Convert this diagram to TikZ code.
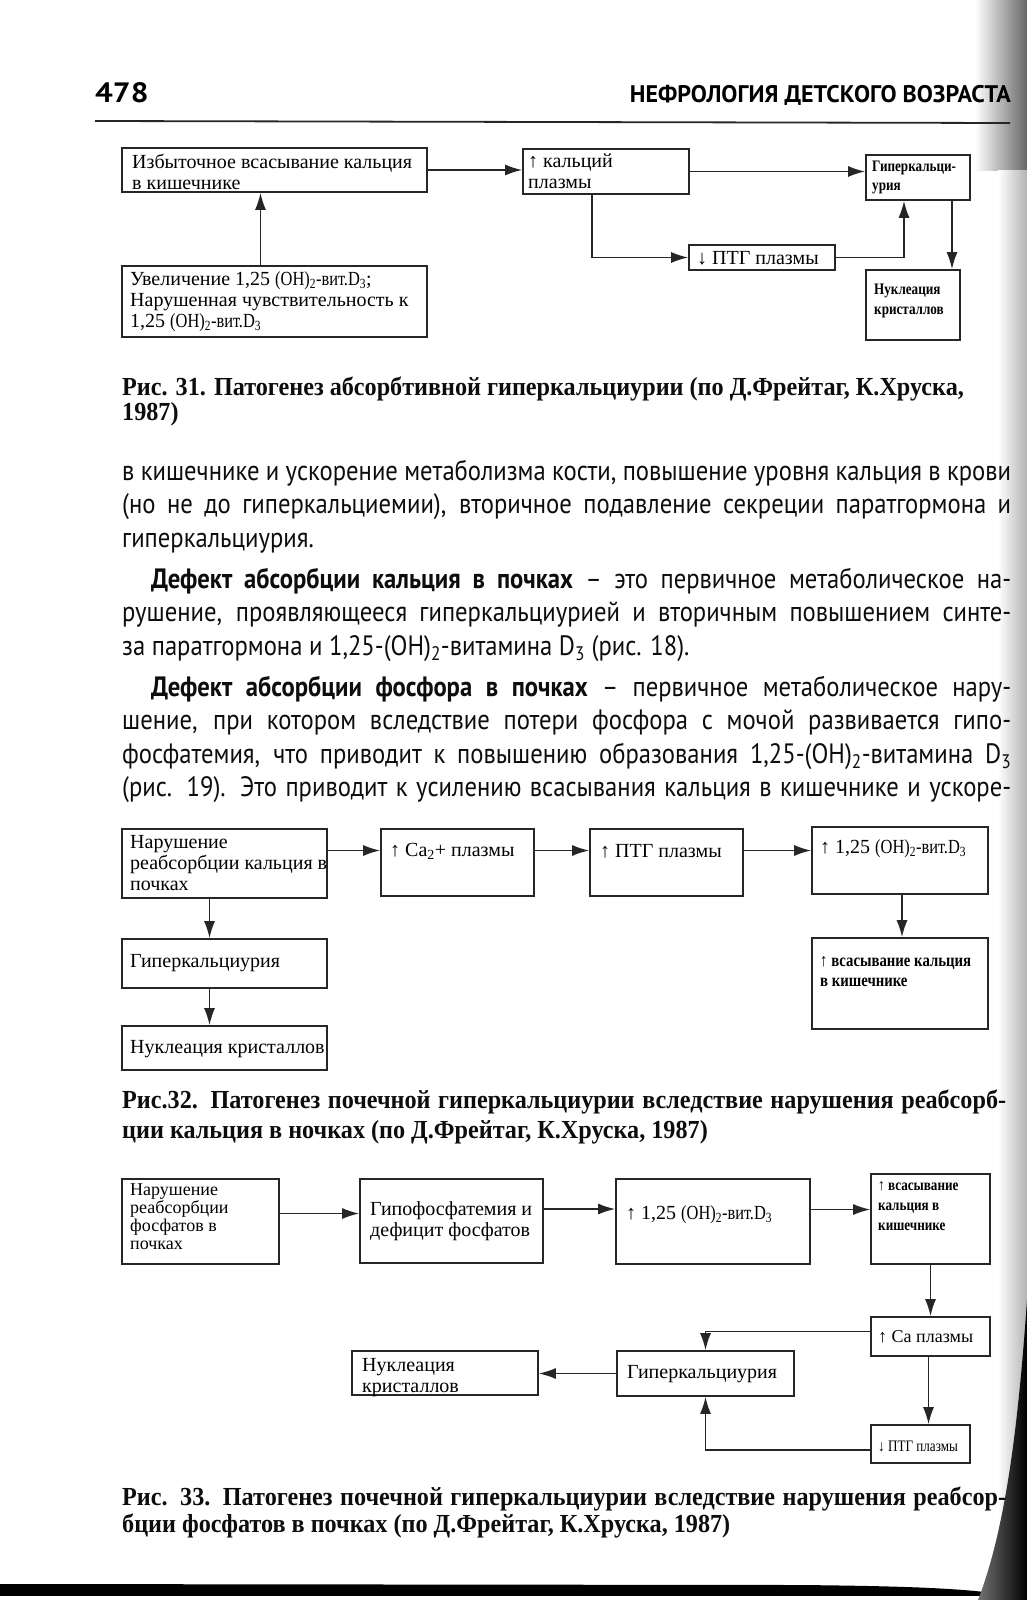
\documentclass[tikz,border=0pt]{standalone}
\usepackage{fontspec}
\setmainfont{Liberation Serif}
\newfontfamily\bodyfam[FakeStretch=0.88]{PT Sans}
\newfontfamily\headfam{PT Sans}
\newfontfamily\numfam[FakeStretch=1.12]{PT Sans}
\newfontfamily\cnd[FakeStretch=0.82]{Liberation Serif}
\newfontfamily\capfam[FakeStretch=0.93]{Liberation Serif}
\usetikzlibrary{arrows.meta}
\newcommand\dgf{\fontsize{20pt}{21pt}\selectfont}
\newcommand\dgs{\cnd\fontsize{18pt}{20pt}\selectfont\bfseries}
\newcommand\bodyf{\bodyfam\fontsize{28pt}{33pt}\selectfont}
\newcommand\capf{\capfam\fontsize{26pt}{28pt}\selectfont\bfseries}
\newcommand\ssub[1]{\textsubscript{#1}}
\newcommand\vitd{{\cnd (OH)\ssub{2}-вит.D\ssub{3}}}
\begin{document}
\begin{tikzpicture}[x=1pt,y=-1pt,
  bx/.style={draw=black!85,line width=1.7pt,rectangle,inner sep=0pt},
  tx/.style={inner sep=0pt,align=left,font=\dgf,text=black},
  txs/.style={tx,font=\dgs},
  ar/.style={draw=black!85,line width=1.5pt,-{Latex[length=17pt,width=11pt]}},
  ln/.style={inner sep=0pt,anchor=base west,font=\bodyf,text=black!95},
  captxt/.style={inner sep=0pt,anchor=base west,font=\capf,text=black!95}]
\useasboundingbox (0,0) rectangle (1027,1600);
\fill[white] (0,0) rectangle (1027,1600);
% page shading (scan)
\shade[left color=white,right color=black!60] (975,0) rectangle (1027,170);
\shade[left color=white,right color=black!30] (998,170) rectangle (1027,1600);
\fill[black] (0,1584) -- (800,1585) .. controls (900,1586) and (960,1588) .. (1000,1594) -- (1000,1600) -- (0,1600) -- (0,1596) -- cycle;
\fill[white] (0,1596) rectangle (990,1600);
\shade[left color=black!55,right color=black] (1027,1300) .. controls (1018,1430) and (1005,1530) .. (978,1600) -- (1027,1600) -- cycle;

% header
\node[inner sep=0pt,anchor=base west,font=\numfam\bfseries\fontsize{28pt}{30pt}\selectfont] (pg) at (95,103) {478};
\node[inner sep=0pt,anchor=base east,font=\headfam\bfseries\fontsize{24pt}{28pt}\selectfont] (hd) at (1011,103) {НЕФРОЛОГИЯ ДЕТСКОГО ВОЗРАСТА};
\draw[line width=1.8pt,black!85] (95,121) -- (1010,123);

% ---------- Fig 31 ----------
\node[bx,minimum width=305pt,minimum height=44pt] (A) at (274.5,170) {};
\node[bx,minimum width=166pt,minimum height=45pt] (B) at (606,171.5) {};
\node[bx,minimum width=104pt,minimum height=45pt] (C) at (918,177.5) {};
\node[bx,minimum width=146pt,minimum height=25pt] (D) at (762,257.5) {};
\node[bx,minimum width=305pt,minimum height=71pt] (E) at (274.5,301.5) {};
\node[bx,minimum width=94pt,minimum height=70pt] (F) at (913,305) {};
\node[tx,anchor=north west] (At) at (132,154) {Избыточное всасывание кальция\\в кишечнике};
\node[tx,anchor=north west] (Bt) at (528,154) {↑ кальций\\плазмы};
\node[txs,anchor=north west,font=\cnd\fontsize{16pt}{19pt}\selectfont\bfseries] (Ct) at (872,161) {Гиперкальци-\\урия};
\node[tx,anchor=west] (Dt) at (697,258) {↓ ПТГ плазмы};
\node[tx,anchor=north west] (Et) at (130,271) {Увеличение 1,25 \vitd;\\Нарушенная чувствительность к\\1,25 \vitd};
\node[txs,anchor=north west,font=\cnd\fontsize{16pt}{20pt}\selectfont\bfseries] (Ft) at (874,284) {Нуклеация\\кристаллов};
\draw[ar] (A.east) -- (A.east -| B.west);
\draw[ar] (B.east) -- (B.east -| C.west);
\draw[ar] ([xshift=-14pt]B.south) |- (D.west);
\draw[ar] (D.east) -| ([xshift=-14pt]C.south);
\draw[ar] ([xshift=34pt]C.south) -- ([xshift=34pt]C.south |- F.north);
\draw[ar] ([xshift=-14pt]E.north) -- ([xshift=-14pt]E.north |- A.south);

\node[captxt] (c31a) at (122,395) {Рис. 31. Патогенез абсорбтивной гиперкальциурии (по Д.Фрейтаг, К.Хруска,};
\node[captxt] (c31b) at (122,420) {1987)};

% ---------- body text ----------
\node[ln] (l1) at (122,480) {\hbox to 889pt{в кишечнике и ускорение метаболизма кости, повышение уровня кальция в крови}};
\node[ln] (l2) at (122,513) {\hbox to 889pt{(но не до гиперкальциемии), вторичное подавление секреции паратгормона и}};
\node[ln] (l3) at (122,547) {гиперкальциурия.};
\node[ln] (l4) at (151,588) {\hbox to 860pt{\bfseries Дефект абсорбции кальция в почках\mdseries{} – это первичное метаболическое на-}};
\node[ln] (l5) at (122,621) {\hbox to 889pt{рушение, проявляющееся гиперкальциурией и вторичным повышением синте-}};
\node[ln] (l6) at (122,655) {за паратгормона и 1,25-(OH)\ssub{2}-витамина D\ssub{3} (рис. 18).};
\node[ln] (l7) at (151,696) {\hbox to 860pt{\bfseries Дефект абсорбции фосфора в почках\mdseries{} – первичное метаболическое нару-}};
\node[ln] (l8) at (122,729) {\hbox to 889pt{шение, при котором вследствие потери фосфора с мочой развивается гипо-}};
\node[ln] (l9) at (122,763) {\hbox to 889pt{фосфатемия, что приводит к повышению образования 1,25-(OH)\ssub{2}-витамина D\ssub{3}}};
\node[ln] (l10) at (122,796) {\hbox to 889pt{(рис. 19). Это приводит к усилению всасывания кальция в кишечнике и ускоре-}};

% ---------- Fig 32 ----------
\node[bx,minimum width=205pt,minimum height=69pt] (G) at (224.5,863.5) {};
\node[bx,minimum width=153pt,minimum height=67pt] (H) at (457.5,862.5) {};
\node[bx,minimum width=153pt,minimum height=67pt] (K) at (666.5,862.5) {};
\node[bx,minimum width=176pt,minimum height=67pt] (L) at (900,860.5) {};
\node[bx,minimum width=176pt,minimum height=91pt] (M) at (900,983.5) {};
\node[bx,minimum width=205pt,minimum height=49pt] (I) at (224.5,963.5) {};
\node[bx,minimum width=205pt,minimum height=44pt] (J) at (224.5,1048) {};
\node[tx,anchor=north west] (Gt) at (130,835) {Нарушение\\реабсорбции кальция в\\почках};
\node[tx,anchor=west] (Ht) at (390,851) {↑ Ca\ssub{2}+ плазмы};
\node[tx,anchor=west] (Kt) at (600,851) {↑ ПТГ плазмы};
\node[tx,anchor=west] (Lt) at (820,849) {↑ 1,25 \vitd};
\node[txs,anchor=north west] (Mt) at (820,956) {↑ всасывание кальция\\в кишечнике};
\node[tx,anchor=west] (It) at (130,963) {Гиперкальциурия};
\node[tx,anchor=west] (Jt) at (130,1049) {Нуклеация кристаллов};
\draw[ar] ([yshift=13pt]G.east) -- ([yshift=13pt]G.east -| H.west);
\draw[ar] ([yshift=12pt]H.east) -- ([yshift=12pt]H.east -| K.west);
\draw[ar] ([yshift=12pt]K.east) -- ([yshift=12pt]K.east -| L.west);
\draw[ar] ([xshift=-15pt]G.south) -- ([xshift=-15pt]G.south |- I.north);
\draw[ar] ([xshift=-15pt]I.south) -- ([xshift=-15pt]I.south |- J.north);
\draw[ar] ([xshift=2pt]L.south) -- ([xshift=2pt]L.south |- M.north);

\node[captxt] (c32a) at (122,1108) {\hbox to 884pt{Рис.32. Патогенез почечной гиперкальциурии вследствие нарушения реабсорб-}};
\node[captxt] (c32b) at (122,1138) {ции кальция в ночках (по Д.Фрейтаг, К.Хруска, 1987)};

% ---------- Fig 33 ----------
\node[bx,minimum width=157pt,minimum height=85pt] (N) at (200.5,1221.5) {};
\node[bx,minimum width=183pt,minimum height=84pt] (O) at (451.5,1221) {};
\node[bx,minimum width=194pt,minimum height=85pt] (P) at (713,1221.5) {};
\node[bx,minimum width=119pt,minimum height=90pt] (Q) at (930.5,1219) {};
\node[bx,minimum width=119pt,minimum height=39pt] (R) at (930.5,1336.5) {};
\node[bx,minimum width=177pt,minimum height=45pt] (Hy) at (705.5,1373.5) {};
\node[bx,minimum width=186pt,minimum height=44pt] (Nu) at (445,1373) {};
\node[bx,minimum width=99pt,minimum height=38pt] (S) at (920.5,1444) {};
\node[tx,anchor=north west,font=\fontsize{18pt}{18pt}\selectfont] (Nt) at (130,1183) {Нарушение\\реабсорбции\\фосфатов в\\почках};
\node[tx,anchor=west] (Ot) at (370,1221) {Гипофосфатемия и\\дефицит фосфатов};
\node[tx,anchor=west] (Pt) at (626,1215) {↑ 1,25 \vitd};
\node[txs,anchor=north west,font=\cnd\fontsize{16pt}{20pt}\selectfont\bfseries] (Qt) at (878,1181) {↑ всасывание\\кальция в\\кишечнике};
\node[tx,anchor=west,font=\fontsize{18pt}{20pt}\selectfont] (Rt) at (878,1337) {↑ Ca плазмы};
\node[tx,anchor=west] (Hyt) at (627,1374) {Гиперкальциурия};
\node[tx,anchor=north west] (Nut) at (362,1358) {Нуклеация\\кристаллов};
\node[tx,anchor=west,font=\cnd\fontsize{16pt}{18pt}\selectfont] (St) at (878,1446) {↓ ПТГ плазмы};
\draw[ar] ([yshift=8pt]N.east) -- ([yshift=8pt]N.east -| O.west);
\draw[ar] ([yshift=12pt]O.east) -- ([yshift=12pt]O.east -| P.west);
\draw[ar] ([yshift=12pt]P.east) -- ([yshift=12pt]P.east -| Q.west);
\draw[ar] (Q.south) -- (Q.south |- R.north);
\draw[ar] ([yshift=5pt]R.west) -| (Hy.north);
\draw[ar] ([xshift=-2pt]R.south) -- ([xshift=-2pt]R.south |- S.north);
\draw[ar] ([yshift=-6pt]S.west) -| (Hy.south);
\draw[ar] (Hy.west) -- (Hy.west -| Nu.east);

\node[captxt] (c33a) at (122,1505) {\hbox to 884pt{Рис. 33. Патогенез почечной гиперкальциурии вследствие нарушения реабсор-}};
\node[captxt] (c33b) at (122,1532) {бции фосфатов в почках (по Д.Фрейтаг, К.Хруска, 1987)};
\end{tikzpicture}
\end{document}
